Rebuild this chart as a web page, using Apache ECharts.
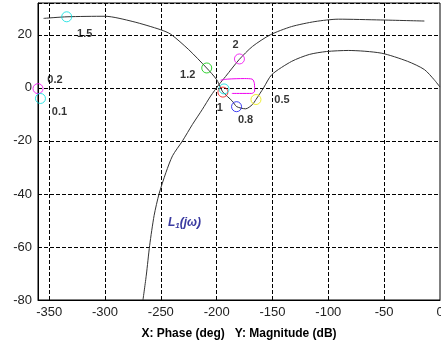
<!DOCTYPE html>
<html>
<head>
<meta charset="utf-8">
<script src="https://cdn.jsdelivr.net/npm/echarts@6/dist/echarts.min.js"></script>
<style>
  html, body { margin: 0; padding: 0; background: #fff; }
  #chart { width: 441px; height: 352px; }
</style>
</head>
<body>
<div id="chart"></div>
<script>
  // phase (deg), magnitude (dB)
  var curveA = [
    [-355, 26.2], [-334, 26.8], [-300, 27.0], [-275, 25.0], [-250, 21.9],
    [-241, 20.2], [-225, 14.4], [-209, 7.5], [-200, 3.1], [-196.5, 0],
    [-194.4, -1.6], [-186, -5.0], [-182, -7.1], [-174, -7.9], [-168, -6.3],
    [-164.8, -4.4], [-158, 0], [-150.6, 5], [-132.8, 10], [-117, 12.6],
    [-101.7, 13.7], [-82, 14.1], [-52.7, 13.1], [-29, 10.0], [-14, 6.9],
    [-5.3, 3.1], [0, 0.3]
  ]
  var curveB = [
    [-266, -80], [-263, -70.6], [-260, -59.4], [-256, -48.1], [-251.6, -40],
    [-245.4, -31.9], [-239.5, -25.6], [-230.6, -20], [-221.7, -13.8], [-212.8, -8.1],
    [-205.4, -3.1], [-198, 1.2], [-192, 4.3], [-180, 10.6], [-168, 15.6], [-152, 20],
    [-133, 23.1], [-112, 25], [-91, 25.9], [-53, 25.6], [-14, 25.2]
  ]
  var loopCurve = [
    [-196.5, 2.9], [-190, 3.3], [-175, 3.5], [-168.3, 3.3], [-166.2, 1.6],
    [-166, -1.2], [-168.6, -2.1], [-186.4, -2.1]
  ]
  var freqLabels = ['1.5', '1.2', '2', '1', '0.8', '0.5', '0.2', '0.1', '']
  var markPhase = [-334.3, -208.9, -179.6, -194.4, -182.2, -164.8, -360, -357.8, -193.4]
  var markMag = [26.8, 7.5, 10.9, -1.6, -7.1, -4.4, -0.3, -4.0, -0.4]
  var xTicks = [-350, -300, -250, -200, -150, -100, -50, 0]

  var markColors = ['#00dede', '#00c800', '#f000f0', '#f01010', '#1010f0', '#e8e800', '#f000f0', '#00dede', '#00dede']
  var labelOffsets = {
    '1.5': [18, 17], '1.2': [-19, 7], '2': [-4, -14], '1': [-3, 16],
    '0.8': [9, 13], '0.5': [26, 0], '0.2': [17, -9], '0.1': [19, 14]
  }

  var markers = markPhase.map(function (p, i) {
    var name = freqLabels[i]
    return {
      name: name,
      value: [p, markMag[i]],
      itemStyle: { color: 'transparent', borderColor: markColors[i], borderWidth: 1 },
      label: {
        show: name !== '',
        position: 'inside',
        offset: labelOffsets[name] || [0, 0],
        formatter: '{b}'
      }
    }
  })

  var chart = echarts.init(document.getElementById('chart'))
  chart.setOption({
    animation: false,
    backgroundColor: '#fff',
    grid: {
      left: 38, right: 1, top: 3, bottom: 52,
      outerBoundsMode: 'none',
      containLabel: false,
      show: true, borderColor: '#000', borderWidth: 1, backgroundColor: '#fff'
    },
    xAxis: {
      type: 'value',
      min: -360,
      max: 0,
      axisLine: { show: true, onZero: false, lineStyle: { color: '#000' } },
      axisTick: { show: false },
      splitLine: { show: false },
      axisLabel: {
        customValues: xTicks,
        color: '#222',
        fontFamily: 'Liberation Sans, Arial, sans-serif',
        fontSize: 13,
        margin: 6
      },
      name: 'X: Phase (deg)   Y: Magnitude (dB)',
      nameLocation: 'middle',
      nameGap: 28,
      nameTextStyle: {
        color: '#000', fontWeight: 'bold', fontSize: 12,
        fontFamily: 'Liberation Sans, Arial, sans-serif'
      }
    },
    yAxis: {
      type: 'value',
      min: -80,
      max: 32,
      interval: 20,
      axisLine: { show: true, onZero: false, lineStyle: { color: '#000' } },
      axisTick: { show: false },
      axisLabel: {
        showMaxLabel: false,
        color: '#222',
        fontFamily: 'Liberation Sans, Arial, sans-serif',
        fontSize: 13,
        margin: 6
      },
      splitLine: { show: true, lineStyle: { color: '#000', type: [4, 2], width: 1 } }
    },
    series: [
      {
        type: 'line',
        data: curveA,
        smooth: 0.25,
        symbol: 'none',
        lineStyle: { color: '#333', width: 1 },
        z: 3,
        markLine: {
          silent: true,
          symbol: 'none',
          z: 1,
          label: { show: false },
          lineStyle: { color: '#000', type: [4, 2], width: 1 },
          data: xTicks.slice(0, -1).map(function (v) { return { xAxis: v } })
        }
      },
      {
        type: 'line',
        data: curveB,
        smooth: 0.25,
        symbol: 'none',
        lineStyle: { color: '#333', width: 1 },
        z: 3
      },
      {
        type: 'line',
        data: loopCurve,
        smooth: 0.3,
        symbol: 'none',
        lineStyle: { color: '#f000f0', width: 1 },
        z: 3
      },
      {
        type: 'scatter',
        data: markers,
        symbol: 'circle',
        symbolSize: 10,
        z: 4,
        label: {
          color: '#000', fontWeight: 'bold', fontSize: 11,
          fontFamily: 'Liberation Sans, Arial, sans-serif'
        }
      }
    ],
    graphic: [
      {
        type: 'text',
        left: 168,
        top: 217,
        style: {
          text: '{a|L}{s|1}{a|(jω)}',
          rich: {
            a: { fontSize: 12, fontWeight: 'bold', fontStyle: 'italic', fill: '#3a3aa0', fontFamily: 'Liberation Sans, Arial, sans-serif' },
            s: { fontSize: 8, fontWeight: 'bold', fontStyle: 'italic', fill: '#3a3aa0', padding: [6, 0, 0, 0], fontFamily: 'Liberation Sans, Arial, sans-serif' }
          }
        }
      }
    ]
  })
</script>
</body>
</html>
